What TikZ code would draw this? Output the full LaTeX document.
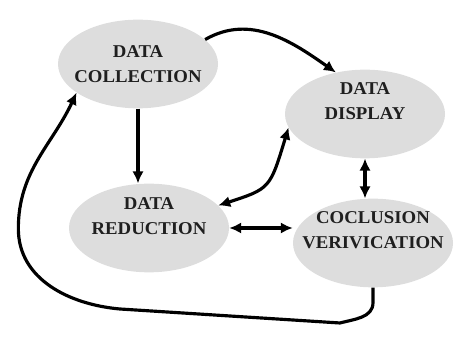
\documentclass[tikz,border=0pt]{standalone}
\usepackage{fontspec}
\setmainfont{Liberation Serif}[FakeStretch=1.04]
\usepackage{tikz}
\usetikzlibrary{arrows.meta,shapes.geometric}

\definecolor{stagegray}{RGB}{221,221,221}
\tikzset{
  stage/.style={ellipse, fill=stagegray, minimum width=4.8cm, minimum height=2.66cm},
  stagetext/.style={align=center, text=black!88, font=\fontsize{15.4}{21}\selectfont\bfseries},
  link/.style={line width=2.7pt, >={Latex[length=3.6mm,width=3.4mm]}}
}

\begin{document}
\begin{tikzpicture}
\useasboundingbox (0,0) rectangle (13.71,10.26);

\node [stage] (coll) at (4.14,8.34) {};
\node [stage] (disp) at (10.95,6.84) {};
\node [stage] (red)  at (4.47,3.42) {};
\node [stage] (conc) at (11.19,2.97) {};

\node [stagetext] (collText) at (coll.center) {DATA\\COLLECTION};
\node [stagetext] (dispText) at ([yshift=0.39cm]disp.center) {DATA\\DISPLAY};
\node [stagetext] (redText)  at ([yshift=0.36cm]red.center) {DATA\\REDUCTION};
\node [stagetext] (concText) at ([yshift=0.39cm]conc.center) {COCLUSION\\VERIVICATION};

\draw [link,->] (coll.20) to[out=30,in=145] (disp.125);
\draw [link,->] (coll.south) -- (coll.south |- red.north);
\draw [link,<->] (red.18) .. controls (8.1,4.6) .. (disp.190);
\draw [link,<->] (disp.south) -- (disp.south |- conc.north);
\draw [link,<->] (red.east) -- (red.east -| conc.west);

% back to the start
\draw [link,->] (conc.south) -- ++(0,-0.45) to[out=-90,in=15] (10.2,0.57)
  -- (3.6,0.99) to[out=175,in=-90] (0.55,3.4) to[out=90,in=245] (coll.205);
\end{tikzpicture}
\end{document}
